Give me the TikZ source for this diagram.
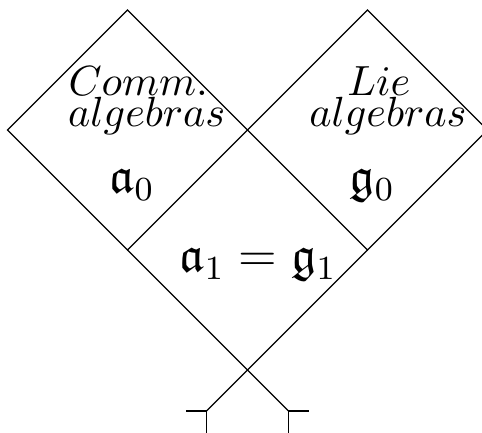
\documentclass[tikz,border=0pt]{standalone}
\usepackage{amsmath}
\usepackage{amssymb}
\usepackage{tikz}
\usetikzlibrary{calc}

\begin{document}
\begin{tikzpicture}[line width=0.3pt,
    lbl/.style={anchor=base,inner sep=0pt},
    frak/.style={anchor=base,inner sep=0pt,font=\fontsize{11.8}{14}\selectfont}]
  % Frame of the picture
  \useasboundingbox (-2.0625,-2.517) rectangle (1.954,1.083);
  \clip (-2.0625,-2.517) rectangle (1.954,1.083);

  % Diamond vertices
  \coordinate (O) at (0,0);
  \coordinate (LT) at (-1,1);
  \coordinate (LL) at (-2,0);
  \coordinate (LB) at (-1,-1);
  \coordinate (RT) at (1,1);
  \coordinate (RR) at (2,0);
  \coordinate (RB) at (1,-1);
  \coordinate (X) at (0,-2);
  \coordinate (FL) at (-0.342,-2.342);
  \coordinate (FR) at (0.342,-2.342);

  % Draw diamonds
  \draw (O) -- (LT) -- (LL) -- (LB) -- cycle;
  \draw (O) -- (RT) -- (RR) -- (RB) -- cycle;

  % Crossing lines
  \draw (LB) -- (X) -- (FR);
  \draw (RB) -- (X) -- (FL);

  % Feet
  \draw ($(FL)+(-0.167,0)$) -- (FL) -- ++(0,-0.3);
  \draw ($(FR)+(0.167,0)$) -- (FR) -- ++(0,-0.3);

  % Labels
  \node[lbl] (comm) at (-0.91,0.29) {$Comm.$};
  \node[lbl] (algl) at (-0.84,0.025) {$algebras$};
  \node[lbl] (lie) at (1.095,0.29) {$Lie$};
  \node[lbl] (algr) at (1.17,0.025) {$algebras$};
  \node[frak] (a0) at (-0.96,-0.525) {$\mathfrak{a}_0$};
  \node[frak] (g0) at (1.04,-0.525) {$\mathfrak{g}_0$};
  \node[frak] (a1g1) at (0.09,-1.18) {$\mathfrak{a}_1 = \mathfrak{g}_1$};
\end{tikzpicture}
\end{document}
